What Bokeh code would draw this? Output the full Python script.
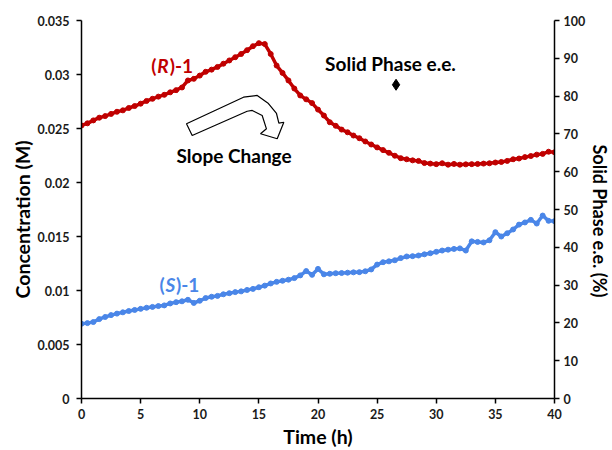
from bokeh.plotting import figure
from bokeh.models import Range1d, LinearAxis, FixedTicker, CustomJSTickFormatter, Label, Title
from bokeh.embed import file_html
from bokeh.resources import INLINE

# ---------------- data ----------------
time_h = [0, 0.5, 1, 1.5, 2, 2.5, 3, 3.5, 4, 4.5, 5, 5.5, 6, 6.5, 7, 7.5, 8, 8.5, 9, 9.5,
          10, 10.5, 11, 11.5, 12, 12.5, 13, 13.5, 14, 14.5, 15, 15.5, 16, 16.5, 17, 17.5, 18, 18.5, 19, 19.5,
          20, 20.5, 21, 21.5, 22, 22.5, 23, 23.5, 24, 24.5, 25, 25.5, 26, 26.5, 27, 27.5, 28, 28.5, 29, 29.5,
          30, 30.5, 31, 31.5, 32, 32.5, 33, 33.5, 34, 34.5, 35, 35.5, 36, 36.5, 37, 37.5, 38, 38.5, 39, 39.5, 40]

r_conc = [0.02528, 0.02548, 0.02575, 0.02600, 0.02615, 0.02635, 0.02655, 0.02668, 0.02690, 0.02708,
          0.02730, 0.02755, 0.02775, 0.02795, 0.02812, 0.02835, 0.02855, 0.02880, 0.02945, 0.02960,
          0.02990, 0.03025, 0.03045, 0.03070, 0.03100, 0.03130, 0.03160, 0.03190, 0.03225, 0.03262,
          0.03290, 0.03282, 0.03190, 0.03083, 0.03015, 0.02945, 0.02870, 0.02806, 0.02770, 0.02735,
          0.02675, 0.02620, 0.02558, 0.02525, 0.02490, 0.02465, 0.02435, 0.02410, 0.02380, 0.02352,
          0.02325, 0.02300, 0.02275, 0.02248, 0.02225, 0.02215, 0.02205, 0.02200, 0.02180, 0.02175,
          0.02170, 0.02178, 0.02165, 0.02172, 0.02165, 0.02168, 0.02170, 0.02172, 0.02175, 0.02178,
          0.02185, 0.02190, 0.02200, 0.02215, 0.02222, 0.02235, 0.02245, 0.02258, 0.02265, 0.02285,
          0.02280]

s_conc = [0.00692, 0.00698, 0.00708, 0.00735, 0.00755, 0.00772, 0.00786, 0.00798, 0.00810, 0.00820,
          0.00830, 0.00840, 0.00848, 0.00856, 0.00862, 0.00880, 0.00892, 0.00900, 0.00914, 0.00885,
          0.00905, 0.00930, 0.00942, 0.00950, 0.00965, 0.00975, 0.00985, 0.00992, 0.01005, 0.01015,
          0.01030, 0.01045, 0.01065, 0.01080, 0.01090, 0.01100, 0.01115, 0.01140, 0.01180, 0.01145,
          0.01200, 0.01150, 0.01155, 0.01160, 0.01162, 0.01165, 0.01168, 0.01170, 0.01178, 0.01195,
          0.01240, 0.01262, 0.01270, 0.01280, 0.01300, 0.01315, 0.01318, 0.01324, 0.01335, 0.01345,
          0.01358, 0.01370, 0.01378, 0.01385, 0.01390, 0.01370, 0.01455, 0.01450, 0.01445, 0.01465,
          0.01540, 0.01500, 0.01530, 0.01565, 0.01610, 0.01630, 0.01654, 0.01620, 0.01694, 0.01645,
          0.01642]

solid_t = [26.6]
solid_ee = [83.0]

x_ticks = [0, 5, 10, 15, 20, 25, 30, 35, 40]
conc_ticks = [0, 0.005, 0.01, 0.015, 0.02, 0.025, 0.03, 0.035]
ee_ticks = [0, 10, 20, 30, 40, 50, 60, 70, 80, 90, 100]

# block-arrow outline (annotation shape, in data units)
arrow_t = [8.88, 13.70, 14.86, 15.81, 16.49, 16.69, 17.11, 16.55, 15.14, 15.64, 15.28, 14.44, 14.01, 9.36]
arrow_c = [0.02544, 0.02790, 0.02806, 0.02731, 0.02639, 0.02549, 0.02558, 0.02405, 0.02451, 0.02497,
           0.02620, 0.02667, 0.02660, 0.02435]

RED = "#C00000"
BLUE = "#4A86E8"
FONT = "Lato"

p = figure(width=612, height=450, output_backend="svg", toolbar_location=None,
           x_range=Range1d(0, 40), y_range=Range1d(0, 0.035),
           min_border_left=81, min_border_right=58, min_border_top=20, min_border_bottom=52)
p.extra_y_ranges = {"ee": Range1d(0, 100)}
p.outline_line_color = None
p.xgrid.visible = False
p.ygrid.visible = False
p.background_fill_color = "white"
p.border_fill_color = "white"

right_axis = LinearAxis(y_range_name="ee")
p.add_layout(right_axis, "right")

p.xaxis.ticker = FixedTicker(ticks=x_ticks)
p.yaxis[0].ticker = FixedTicker(ticks=conc_ticks)
right_axis.ticker = FixedTicker(ticks=ee_ticks)
p.yaxis[0].formatter = CustomJSTickFormatter(
    code="return tick.toFixed(3).replace(/0+$/, '').replace(/\\.$/, '');")

p.xaxis.axis_label = "Time (h)"

for ax in [p.xaxis[0], p.yaxis[0], right_axis]:
    ax.axis_line_color = "black"
    ax.axis_line_width = 1.5
    ax.major_tick_line_color = "black"
    ax.major_tick_line_width = 1.5
    ax.major_tick_out = 5
    ax.major_tick_in = 0
    ax.minor_tick_line_color = None
    ax.major_label_text_font = FONT
    ax.major_label_text_font_style = "bold"
    ax.major_label_text_font_size = "12.5px"
    ax.major_label_text_color = "#1a1a1a"
    ax.axis_label_text_font = FONT
    ax.axis_label_text_font_style = "bold"
    ax.axis_label_text_font_size = "19.5px"
    ax.axis_label_text_color = "black"

p.xaxis[0].major_label_standoff = 5
p.xaxis[0].axis_label_standoff = 3
p.yaxis[0].major_label_standoff = 7
right_axis.major_label_standoff = 4

# axis titles as side-panel titles (offset positions them along the axis)
p.add_layout(Title(text="Concentration (M)", align="left", offset=100, standoff=2,
                   text_font=FONT, text_font_size="19.5px", text_font_style="bold",
                   text_color="black"), "left")
p.add_layout(Title(text="Solid Phase e.e. (%)", align="left", offset=124, standoff=0,
                   text_font=FONT, text_font_size="18px", text_font_style="bold",
                   text_color="black"), "right")

# data series
p.line(time_h, r_conc, line_color=RED, line_width=3.5)
p.scatter(time_h, r_conc, size=5, fill_color=RED, line_color=RED)
p.line(time_h, s_conc, line_color=BLUE, line_width=3.5)
p.scatter(time_h, s_conc, size=5, fill_color=BLUE, line_color=BLUE)
p.scatter(solid_t, solid_ee, y_range_name="ee", marker="diamond", size=11,
          fill_color="black", line_color="black")

# block arrow
p.patch(arrow_t, arrow_c, fill_color="white", line_color="black", line_width=1.2)

# labels
def lab(x, y, text, color="black", style="bold", align="left", xoff=0, size="19px"):
    p.add_layout(Label(x=x, y=y, text=text, text_font=FONT, text_font_style=style,
                       text_font_size=size, text_color=color, text_align=align,
                       text_baseline="middle", x_offset=xoff))

lab(5.9, 0.03083, "(", RED)
lab(5.9, 0.03083, "R", RED, style="bold italic", xoff=6)
lab(5.9, 0.03083, ")-1", RED, xoff=18.5)

lab(6.6, 0.01056, "(", BLUE)
lab(6.6, 0.01056, "S", BLUE, style="bold italic", xoff=6)
lab(6.6, 0.01056, ")-1", BLUE, xoff=16.5)

lab(26.13, 0.03102, "Solid Phase e.e.", align="center")
lab(12.9, 0.0225, "Slope Change", align="center")

open("out.html", "w").write(file_html(p, INLINE))
